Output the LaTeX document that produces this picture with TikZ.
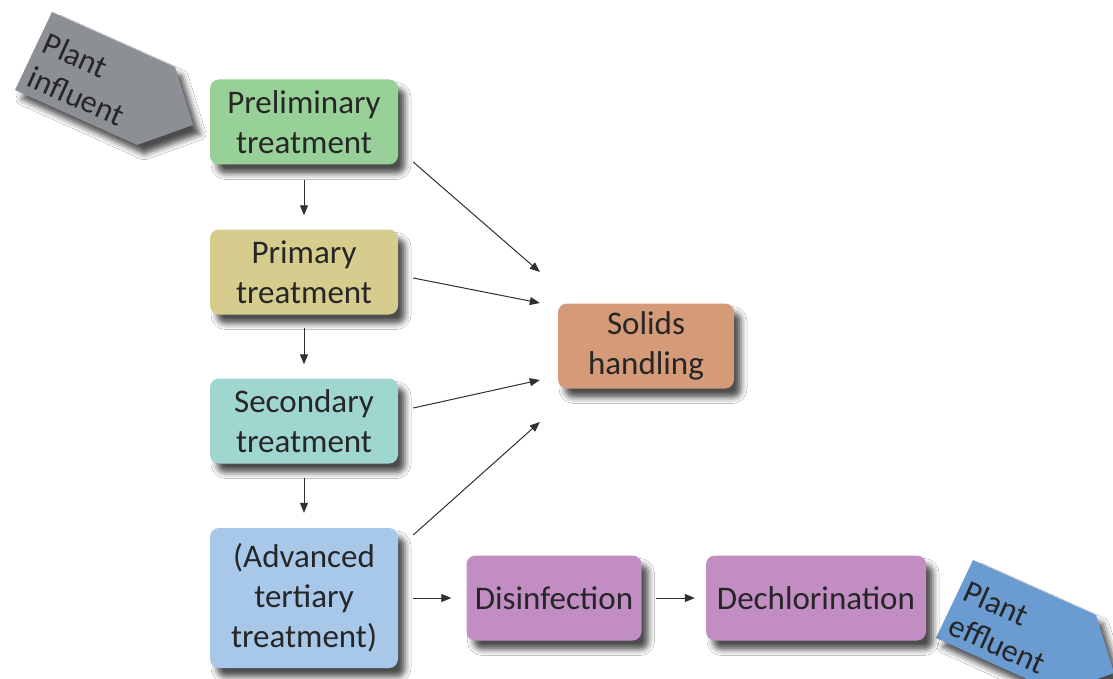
\documentclass[tikz,border=0pt]{standalone}
\usepackage{fontspec}
\setmainfont{Carlito}
\usetikzlibrary{arrows.meta,shadows.blur}
\definecolor{cgreen}{HTML}{98D198}
\definecolor{cyell}{HTML}{D5CC8D}
\definecolor{cteal}{HTML}{9FD6CF}
\definecolor{cblue}{HTML}{A8C8EA}
\definecolor{corange}{HTML}{D59A78}
\definecolor{cpurple}{HTML}{C18DC3}
\definecolor{cgrey}{HTML}{8C8F94}
\definecolor{ceffl}{HTML}{6A9BD1}
\definecolor{txt}{HTML}{262626}
\definecolor{arrc}{HTML}{303030}
\begin{document}
\begin{tikzpicture}[x=1pt,y=-1pt,
  shad/.style={blur shadow={shadow xshift=7pt, shadow yshift=-9pt, shadow blur radius=6pt, shadow opacity=70}},
  box/.style={shad, rounded corners=9pt, minimum width=188pt, minimum height=85pt, align=center,
    font=\fontsize{33}{40}\selectfont, text=txt, inner sep=0pt},
  arr/.style={draw=arrc, line width=1pt, -{Triangle[length=10pt,width=8pt]}},
  tag/.style={rotate=-24, align=left, font=\fontsize{32}{37}\selectfont, text=txt, inner sep=0pt}]
\clip (0,0) rectangle (1113,679);
\fill[white] (0,0) rectangle (1113,679);

% influent / effluent arrows
\fill[cgrey, shad] (52,12) -- (175,67) -- (193,125) -- (137,145) -- (15,90) -- cycle;
\node[tag] (infl) at (84,79) {Plant\\influent};
\fill[ceffl, shad] (973,560) -- (1096,615) -- (1114,673) -- (1058,693) -- (936,638) -- cycle;
\node[tag] (effl) at (1005,627) {Plant\\effluent};

% boxes
\node[box, fill=cgreen] (prelim) at (304,122) {Preliminary\\treatment};
\node[box, fill=cyell] (primary) at (304,272) {Primary\\treatment};
\node[box, fill=cteal] (second) at (304,421) {Secondary\\treatment};
\node[box, fill=cblue, minimum height=140pt] (adv) at (304,598) {(Advanced\\tertiary\\treatment)};
\node[box, fill=corange, minimum width=176pt] (solids) at (646,346) {Solids\\handling};
\node[box, fill=cpurple, minimum width=175pt] (disinf) at (554,598) {Disinfection};
\node[box, fill=cpurple, minimum width=220pt] (dechl) at (816,598) {Dechlorination};

% connectors
\draw[arr] ([shift={(0,15)}]prelim.south) -- ([shift={(0,-14)}]primary.north);
\draw[arr] ([shift={(0,13)}]primary.south) -- ([shift={(0,-14)}]second.north);
\draw[arr] ([shift={(0,14)}]second.south) -- ([shift={(0,-15)}]adv.north);
\draw[arr] ([shift={(15,40)}]prelim.east) -- ([shift={(-18,-74)}]solids.west);
\draw[arr] ([shift={(15,6)}]primary.east) -- ([shift={(-18,-43)}]solids.west);
\draw[arr] ([shift={(15,-13)}]second.east) -- ([shift={(-18,34)}]solids.west);
\draw[arr] ([shift={(15,-63)}]adv.east) -- ([shift={(-18,76)}]solids.west);
\draw[arr] ([shift={(15,0)}]adv.east) -- ([shift={(-15,0)}]disinf.west);
\draw[arr] ([shift={(14,0)}]disinf.east) -- ([shift={(-11,0)}]dechl.west);
\end{tikzpicture}
\end{document}
